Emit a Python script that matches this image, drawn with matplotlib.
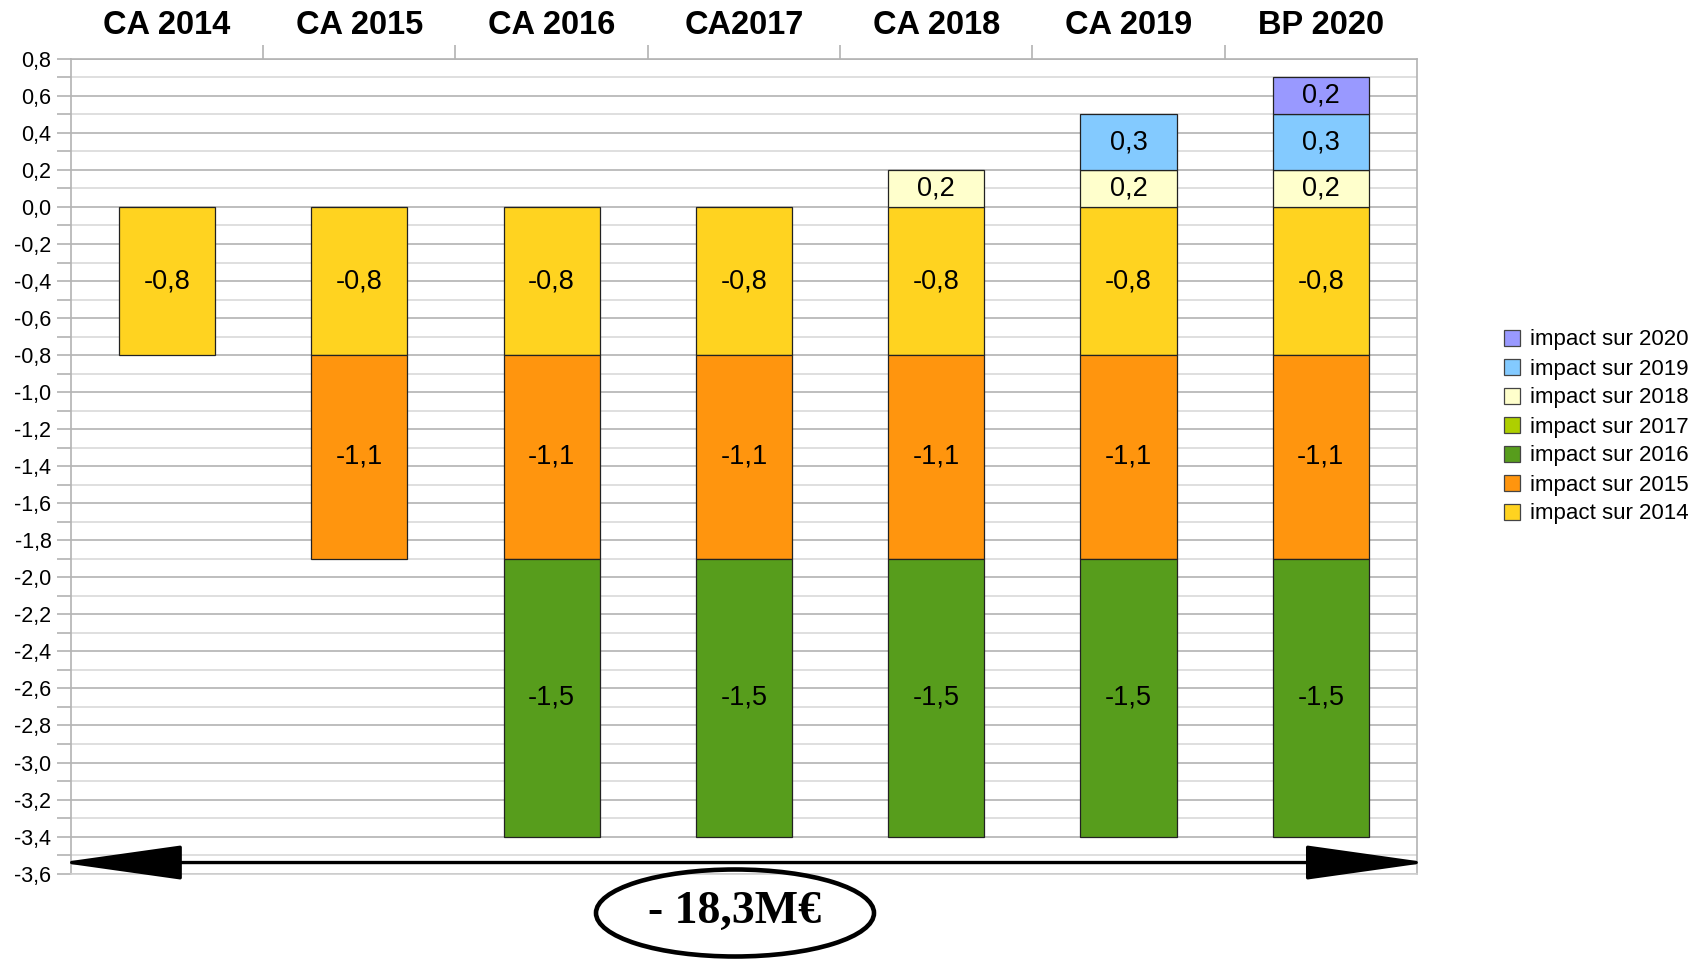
import numpy as np
import matplotlib
matplotlib.use('Agg')
from matplotlib import pyplot as plt
from matplotlib.patches import Ellipse, Patch

plt.rcParams['font.family'] = ['Liberation Sans', 'DejaVu Sans']

# data
categories = ['CA 2014', 'CA 2015', 'CA 2016', 'CA2017', 'CA 2018', 'CA 2019', 'BP 2020']
impact_2014 = [-0.8, -0.8, -0.8, -0.8, -0.8, -0.8, -0.8]
impact_2015 = [0, -1.1, -1.1, -1.1, -1.1, -1.1, -1.1]
impact_2016 = [0, 0, -1.5, -1.5, -1.5, -1.5, -1.5]
impact_2017 = [0, 0, 0, 0, 0, 0, 0]
impact_2018 = [0, 0, 0, 0, 0.2, 0.2, 0.2]
impact_2019 = [0, 0, 0, 0, 0, 0.3, 0.3]
impact_2020 = [0, 0, 0, 0, 0, 0, 0.2]
series_names = ['impact sur 2014', 'impact sur 2015', 'impact sur 2016', 'impact sur 2017',
                'impact sur 2018', 'impact sur 2019', 'impact sur 2020']
colors = ['#FFD320', '#FF950E', '#579D1C', '#AECF00', '#FFFFCC', '#83CAFF', '#9999FF']
total_label = '- 18,3M€'

series = [impact_2014, impact_2015, impact_2016, impact_2017, impact_2018, impact_2019, impact_2020]


def fmt(v):
    return f'{v:.1f}'.replace('.', ',').replace('-0,0', '0,0')


fig = plt.figure(figsize=(17.08, 9.59), dpi=100)
ax = fig.add_axes([0.0415, 0.089, 0.7881, 0.8497])

x = np.arange(len(categories))
pos_bottom = np.zeros(len(categories))
neg_bottom = np.zeros(len(categories))

for vals, col in zip(series, colors):
    for i, v in enumerate(vals):
        if v == 0:
            continue
        if v > 0:
            b = pos_bottom[i]
            pos_bottom[i] += v
        else:
            b = neg_bottom[i]
            neg_bottom[i] += v
        ax.bar(x[i], v, bottom=b, width=0.5, color=col, edgecolor='#222222', linewidth=0.9, zorder=3)
        ax.text(x[i], b + v / 2, fmt(v), ha='center', va='center', fontsize=19.5, zorder=4)

ax.set_xlim(-0.5, len(categories) - 0.5)
ax.set_ylim(-3.6, 0.8)

# y axis
yt = np.arange(-3.6, 0.81, 0.2)
ax.set_yticks(yt)
ax.set_yticks(np.arange(-3.5, 0.8, 0.2), minor=True)
ax.set_yticklabels([fmt(v) for v in yt], fontsize=15.5)
ax.tick_params(axis='y', which='both', length=10, color='#b3b3b3', width=1.2, pad=4)
ax.grid(axis='y', which='major', color='#b3b3b3', linewidth=1.2, zorder=0)
ax.grid(axis='y', which='minor', color='#d9d9d9', linewidth=1.2, zorder=0)

# x axis at top
ax.xaxis.tick_top()
ax.set_xticks(x)
ax.set_xticklabels(categories, fontsize=23.5, fontweight='bold')
ax.set_xticks(np.arange(0.5, len(categories) - 0.5, 1), minor=True)
ax.tick_params(axis='x', which='major', length=0, pad=13)
ax.tick_params(axis='x', which='minor', length=10, color='#b3b3b3', width=1.2, top=True, bottom=False)

for s in ax.spines.values():
    s.set_color('#b3b3b3')
    s.set_linewidth(1.2)
ax.spines['bottom'].set_color('#d0d0d0')

# double arrow across the chart
ax.annotate('', xy=(len(categories) - 0.5 + 0.057, -3.54), xytext=(-0.5 - 0.057, -3.54),
            arrowprops=dict(arrowstyle='<|-|>,head_length=3.9,head_width=0.55', mutation_scale=20,
                            color='black', lw=2.4, shrinkA=0, shrinkB=0),
            annotation_clip=False, zorder=5)

# ellipse with the total
fig.patches.append(Ellipse((735 / 1708, 1 - 913 / 959), 278 / 1708, 87 / 959,
                           transform=fig.transFigure, fill=False, edgecolor='black', linewidth=3.3))
fig.text(735 / 1708, 1 - 912 / 959, total_label, ha='center', va='center', fontsize=33,
         fontweight='bold', family=['Liberation Serif', 'DejaVu Serif'])

# legend
handles = [Patch(facecolor=c, edgecolor='#444444', linewidth=0.9) for c in colors]
fig.legend(handles[::-1], series_names[::-1], loc='center left', bbox_to_anchor=(1495 / 1708, 1 - 427 / 959),
           frameon=False, fontsize=16, handlelength=0.72, handleheight=0.72, handletextpad=0.45,
           labelspacing=0.36, borderaxespad=0)

plt.savefig('out.png', dpi=100)
